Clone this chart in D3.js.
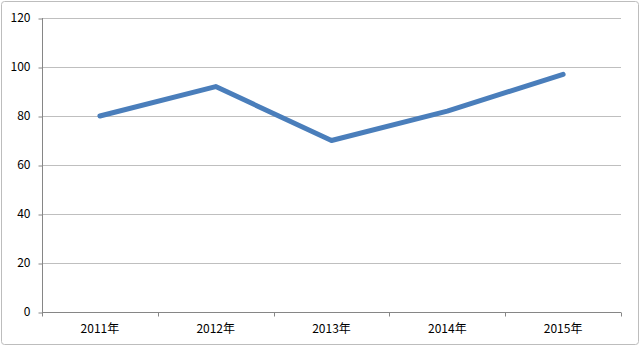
<!DOCTYPE html>
<html>
<head>
<meta charset="utf-8">
<script src="https://cdn.jsdelivr.net/npm/d3@7"></script>
<style>
  body { margin: 0; background: #fff; }
  svg text { font-family: "Noto Sans CJK SC", "Noto Sans", sans-serif; font-size: 12px; fill: #000; }
</style>
</head>
<body>
<div id="chart"></div>
<script>
var categories = ["2011年", "2012年", "2013年", "2014年", "2015年"];
var values = [80, 92, 70, 82, 97];
var yTicks = [0, 20, 40, 60, 80, 100, 120];

var width = 640, height = 346;
var plotLeft = 42, plotRight = 621, plotTop = 18, plotBottom = 312;

var svg = d3.select("#chart").append("svg")
  .attr("width", width)
  .attr("height", height);

// outer frame
svg.append("rect")
  .attr("x", 1.5).attr("y", 1.5)
  .attr("width", width - 3).attr("height", height - 3)
  .attr("rx", 3)
  .attr("fill", "#fff")
  .attr("stroke", "#bdbdbd");

var x = d3.scaleBand().domain(categories).range([plotLeft, plotRight]);
var y = d3.scaleLinear().domain([0, 120]).range([plotBottom, plotTop]);

// gridlines
svg.append("g").selectAll("line")
  .data(yTicks.filter(function(d) { return d > 0; }))
  .enter().append("line")
  .attr("x1", plotLeft).attr("x2", plotRight)
  .attr("y1", function(d) { return Math.round(y(d)) + 0.5; })
  .attr("y2", function(d) { return Math.round(y(d)) + 0.5; })
  .attr("stroke", "#bfbfbf")
  .attr("stroke-width", 1);

// y axis
var yAxis = svg.append("g")
  .attr("transform", "translate(" + (plotLeft + 0.5) + ",0)")
  .call(d3.axisLeft(y).tickValues(yTicks).tickSize(4).tickPadding(8));
yAxis.selectAll("line").attr("stroke", "#868686")
  .attr("transform", function(d) { return "translate(0," + (Math.round(y(d)) + 0.5 - y(d)) + ")"; });
yAxis.select(".domain").attr("stroke", "#868686").attr("d", "M0," + y(120) + "V" + y(0));

// x axis
var xAxis = svg.append("g")
  .attr("transform", "translate(0," + (plotBottom + 0.5) + ")")
  .call(d3.axisBottom(x).tickSize(0).tickPadding(12));
xAxis.select(".domain").attr("stroke", "#868686").attr("d", "M" + plotLeft + ",0H" + plotRight);
xAxis.selectAll(".cat-tick")
  .data(categories.concat([null]))
  .enter().append("line")
  .attr("class", "cat-tick")
  .attr("x1", function(d, i) { return Math.round(plotLeft + i * x.bandwidth()) + 0.5; })
  .attr("x2", function(d, i) { return Math.round(plotLeft + i * x.bandwidth()) + 0.5; })
  .attr("y1", 0).attr("y2", 4)
  .attr("stroke", "#868686");

svg.selectAll(".tick text").attr("font-size", 12).attr("fill", "#000");

// series line
var line = d3.line()
  .x(function(d, i) { return x(categories[i]) + x.bandwidth() / 2; })
  .y(function(d) { return y(d); });

svg.append("path")
  .datum(values)
  .attr("d", line)
  .attr("fill", "none")
  .attr("stroke", "#4a7ebb")
  .attr("stroke-width", 5)
  .attr("stroke-linejoin", "round")
  .attr("stroke-linecap", "round");
</script>
</body>
</html>
